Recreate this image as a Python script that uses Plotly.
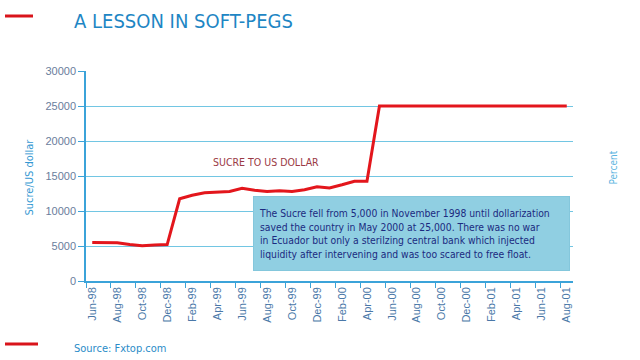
import plotly.graph_objects as go

months = ["Jun-98", "Jul-98", "Aug-98", "Sep-98", "Oct-98", "Nov-98", "Dec-98",
          "Jan-99", "Feb-99", "Mar-99", "Apr-99", "May-99", "Jun-99", "Jul-99",
          "Aug-99", "Sep-99", "Oct-99", "Nov-99", "Dec-99",
          "Jan-00", "Feb-00", "Mar-00", "Apr-00", "May-00", "Jun-00", "Jul-00",
          "Aug-00", "Sep-00", "Oct-00", "Nov-00", "Dec-00",
          "Jan-01", "Feb-01", "Mar-01", "Apr-01", "May-01", "Jun-01", "Jul-01", "Aug-01"]
sucre_per_usd = [5500, 5480, 5450, 5200, 5050, 5150, 5200,
                 11750, 12250, 12600, 12750, 12800, 13250, 12950,
                 12800, 12900, 12800, 13050, 13450,
                 13300, 13750, 14250, 14250, 25000, 25000, 25000,
                 25000, 25000, 25000, 25000, 25000,
                 25000, 25000, 25000, 25000, 25000, 25000, 25000, 25000]
y_ticks = [0, 5000, 10000, 15000, 20000, 25000, 30000]

idx = list(range(len(months)))
label_idx = idx[::2]
label_txt = [months[i] for i in label_idx]

NARROW = "'Liberation Sans Narrow', 'DejaVu Sans Condensed', 'Roboto Condensed', 'Arial Narrow', sans-serif"

fig = go.Figure()
fig.add_trace(go.Scatter(x=idx, y=sucre_per_usd, mode="lines",
                         line=dict(color="#e3161c", width=3), hoverinfo="skip"))

axis_col = "#3ba3d9"
grid_col = "#72c6e3"
fig.update_layout(
    width=640, height=360,
    margin=dict(l=86, r=67, t=71, b=79, autoexpand=False),
    paper_bgcolor="white", plot_bgcolor="white",
    showlegend=False,
    xaxis=dict(range=[-0.5, len(months) - 0.5], tickmode="array", automargin=False,
               tickvals=label_idx, ticktext=label_txt, tickangle=-90,
               ticks="", showgrid=False, zeroline=False,
               showline=True, linecolor=axis_col, linewidth=1.5,
               tickfont=dict(family="Liberation Sans", size=11, color="#4a78a8"),
               minor=dict(tickmode="linear", tick0=-0.5, dtick=2, ticks="outside",
                          ticklen=5, tickcolor=axis_col, tickwidth=1, showgrid=False)),
    yaxis=dict(range=[0, 30000], tickmode="array", tickvals=y_ticks, automargin=False,
               tickformat="d",
               showgrid=True, gridcolor=grid_col, gridwidth=1, zeroline=False,
               showline=True, linecolor=axis_col, linewidth=1.5,
               ticks="outside", ticklen=6, tickcolor=axis_col,
               tickfont=dict(family="Liberation Sans", size=11, color="#6a7d9c")),
)

def px_x(px):
    return (px - 86) / 487

def px_y(py):
    return (281 - py) / 210

fig.add_annotation(xref="paper", yref="paper", x=px_x(20), y=px_y(177),
                   text="Sucre/US dollar", textangle=-90, showarrow=False,
                   font=dict(family=NARROW, size=11, color="#3498d2"))

fig.add_annotation(xref="paper", yref="paper", x=px_x(266), y=px_y(162),
                   text="SUCRE TO US DOLLAR", showarrow=False,
                   font=dict(family=NARROW, size=10.5, color="#9b3a45"))

fig.add_annotation(xref="paper", yref="paper", x=px_x(411.5), y=px_y(233.5),
                   xanchor="center", yanchor="middle",
                   text=("The Sucre fell from 5,000 in November 1998 until dollarization<br>"
                         "saved the country in May 2000 at 25,000. There was no war<br>"
                         "in Ecuador but only a sterilzing central bank which injected<br>"
                         "liquidity after intervening and was too scared to free float."),
                   showarrow=False, align="left", width=305, height=63, borderpad=5,
                   bgcolor="#90cfe2", bordercolor="#84c7dc", borderwidth=1,
                   font=dict(family=NARROW, size=10.3, color="#1b2a80"))

fig.add_annotation(xref="paper", yref="paper", x=px_x(620), y=px_y(168),
                   text="Percent", textangle=-90, showarrow=False,
                   font=dict(family=NARROW, size=10, color="#5ab4e0"))

fig.add_annotation(xref="paper", yref="paper", x=px_x(72), y=px_y(21),
                   xanchor="left", yanchor="middle",
                   text="A LESSON IN SOFT-PEGS", showarrow=False,
                   font=dict(family=NARROW, size=20, color="#1e86c4"))

fig.add_annotation(xref="paper", yref="paper", x=px_x(72), y=px_y(348),
                   xanchor="left", yanchor="middle",
                   text="Source: Fxtop.com", showarrow=False,
                   font=dict(family=NARROW, size=11, color="#2a8cc8"))

for (x0, x1, yy) in [(5, 33, 16), (5, 38, 344)]:
    fig.add_shape(type="line", xref="paper", yref="paper",
                  x0=px_x(x0), x1=px_x(x1), y0=px_y(yy), y1=px_y(yy),
                  line=dict(color="#d9141b", width=3))

fig.write_html("out.html", config={"displayModeBar": False})

with open("out.html", "r", encoding="utf-8") as f:
    html = f.read()
html = html.replace("<body>", '<body style="margin:0;padding:0;overflow:hidden">', 1)
with open("out.html", "w", encoding="utf-8") as f:
    f.write(html)
